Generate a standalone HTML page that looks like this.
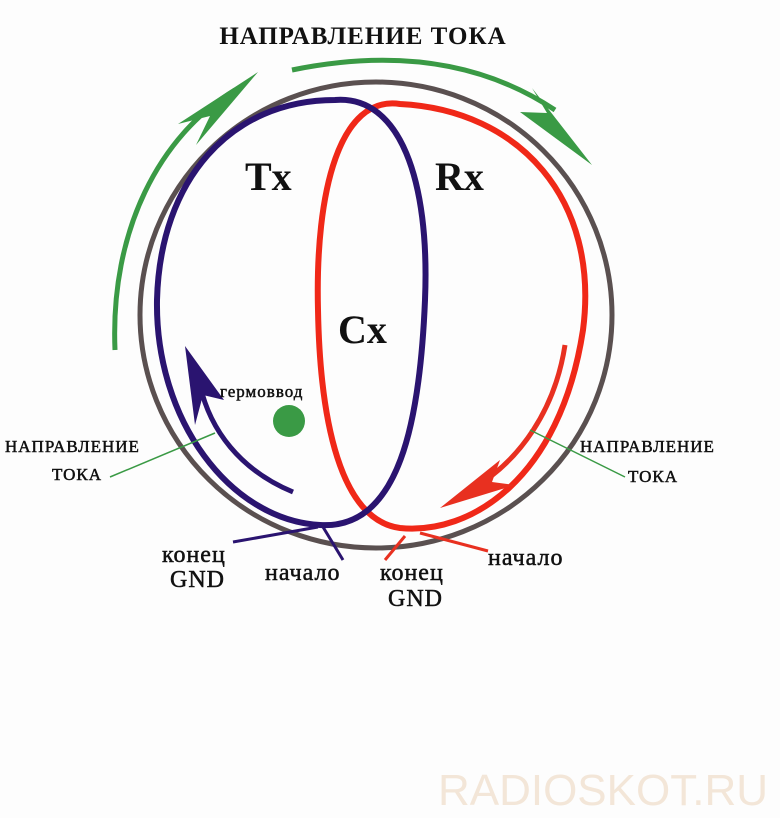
<!DOCTYPE html>
<html><head><meta charset="utf-8"><style>
html,body{margin:0;padding:0;background:#fff;}
svg{display:block}
text{font-family:"Liberation Serif","DejaVu Serif",serif;fill:#111}
.l{stroke:#111;stroke-width:0.5;letter-spacing:1px}
</style></head><body>
<svg width="780" height="818" viewBox="0 0 780 818" xmlns="http://www.w3.org/2000/svg">
<rect width="780" height="818" fill="#fdfdfd"/>
<text x="363" y="44" font-size="25" font-weight="bold" text-anchor="middle" letter-spacing="1">НАПРАВЛЕНИЕ ТОКА</text>
<ellipse cx="376" cy="315" rx="236" ry="233" fill="none" stroke="#5a5050" stroke-width="5"/>
<path d="M115 350 C110 230 160 135 235 90" fill="none" stroke="#3a9a45" stroke-width="5"/>
<path d="M258 72 L178 124 L210 116 L196 145 Z" fill="#3a9a45"/>
<path d="M292 70 C390 50 480 60 555 110" fill="none" stroke="#3a9a45" stroke-width="5"/>
<path d="M592 165 L520 112 L547 113 L532 88 Z" fill="#3a9a45"/>
<path d="M400 104 C340 95 315 190 318 310 C320 420 340 520 400 528 C470 535 560 480 583 330 C600 200 520 110 400 104 Z" fill="none" stroke="#f02818" stroke-width="6"/>
<path d="M335 100 C230 100 160 180 157 300 C155 420 230 520 320 525 C400 530 420 420 425 300 C430 180 400 95 335 100 Z" fill="none" stroke="#2a1470" stroke-width="6"/>
<path d="M293 492 C240 470 210 430 200 385" fill="none" stroke="#2a1470" stroke-width="5"/>
<path d="M185 346 L195 425 L203 395 L224 400 Z" fill="#2a1470"/>
<path d="M565 345 C555 410 520 460 475 487" fill="none" stroke="#e83020" stroke-width="5"/>
<path d="M440 508 L500 460 L492 482 L515 485 Z" fill="#e83020"/>
<circle cx="289" cy="421" r="16" fill="#3a9a45"/>
<line x1="110" y1="477" x2="215" y2="433" stroke="#3a9a45" stroke-width="1.5"/>
<line x1="625" y1="477" x2="530" y2="430" stroke="#3a9a45" stroke-width="1.5"/>
<line x1="233" y1="542" x2="318" y2="527" stroke="#2a1470" stroke-width="3"/>
<line x1="343" y1="560" x2="323" y2="527" stroke="#2a1470" stroke-width="3"/>
<line x1="385" y1="560" x2="405" y2="536" stroke="#e83020" stroke-width="3"/>
<line x1="488" y1="551" x2="420" y2="533" stroke="#e83020" stroke-width="3"/>
<text x="245" y="190" font-size="40" font-weight="bold">Tx</text>
<text x="435" y="190" font-size="40" font-weight="bold">Rx</text>
<text x="338" y="343" font-size="40" font-weight="bold">Cx</text>
<text x="220" y="397" font-size="17" class="l">гермоввод</text>
<text x="5" y="452" font-size="17" class="l">НАПРАВЛЕНИЕ</text>
<text x="52" y="480" font-size="17" class="l">ТОКА</text>
<text x="580" y="452" font-size="17" class="l">НАПРАВЛЕНИЕ</text>
<text x="628" y="482" font-size="17" class="l">ТОКА</text>
<text x="162" y="562" font-size="24" class="l">конец</text>
<text x="170" y="587" font-size="24" class="l">GND</text>
<text x="265" y="580" font-size="24" class="l">начало</text>
<text x="380" y="580" font-size="24" class="l">конец</text>
<text x="388" y="606" font-size="24" class="l">GND</text>
<text x="488" y="565" font-size="24" class="l">начало</text>
<text x="768" y="805" font-size="44" text-anchor="end" style="font-family:'Liberation Sans',sans-serif;fill:#f3e6d8">RADIOSKOT.RU</text>
</svg>
</body></html>
